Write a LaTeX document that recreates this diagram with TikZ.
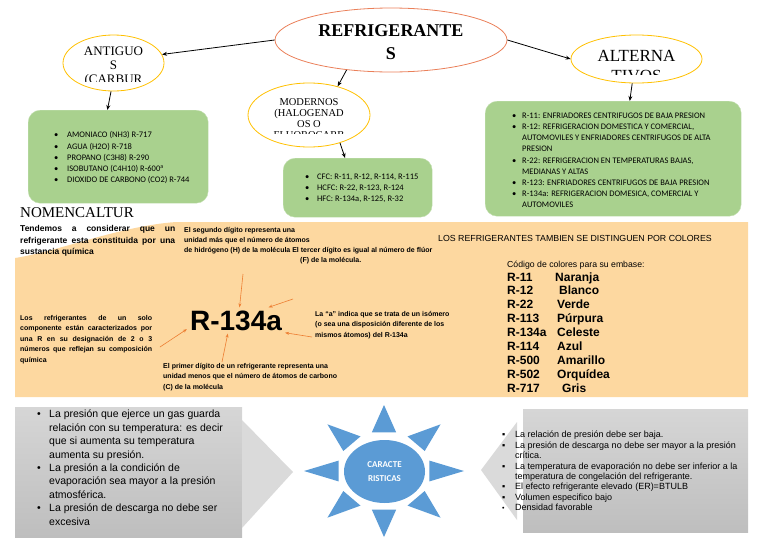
\documentclass[tikz,border=0pt]{standalone}
\usepackage{fontspec}
\setmainfont{Liberation Serif}
\setsansfont{Liberation Sans}
\newfontfamily\calib{Carlito}
\usetikzlibrary{shapes.geometric,arrows.meta}

\definecolor{titleline}{RGB}{234,128,90}
\definecolor{ovalgold}{RGB}{255,192,0}
\definecolor{boxgreen}{RGB}{169,209,142}
\definecolor{boxedge}{RGB}{197,224,180}
\definecolor{paleorange}{RGB}{253,216,160}
\definecolor{arroworange}{RGB}{237,125,49}
\definecolor{sunblue}{RGB}{91,155,213}
\definecolor{graytop}{RGB}{214,214,214}
\definecolor{graybot}{RGB}{190,190,190}
\definecolor{graytip}{RGB}{218,218,218}

\begin{document}
\begin{tikzpicture}[x=1pt,y=-1pt,
    >={Stealth[length=5pt,width=4pt]},
    oval/.style={ellipse,draw=ovalgold,line width=0.8pt,inner sep=0pt},
    ovaltext/.style={align=center,inner sep=0pt},
    greenbox/.style={draw=boxedge,fill=boxgreen,rounded corners=12pt,anchor=north west,inner sep=0pt},
    greentext/.style={font=\calib\fontsize{8.5}{11.2}\selectfont,align=left,anchor=north west,inner sep=0pt},
    tinytext/.style={font=\sffamily\bfseries\fontsize{7}{10.5}\selectfont,anchor=north west,inner sep=0pt},
    oarrow/.style={>={Stealth[length=4pt,width=3pt]},->,draw=arroworange,line width=0.6pt},
    colorrow/.style={font=\sffamily\bfseries\fontsize{12}{12}\selectfont,anchor=base west,inner sep=0pt},
    graylist/.style={font=\sffamily\fontsize{10.5}{13.4}\selectfont,align=left,anchor=north west,inner sep=0pt}
  ]

  \useasboundingbox (0,0) rectangle (768,552);

  % ========== Orange background ==========
  \fill[paleorange] (15,397) -- (15,258) .. controls (60,251) and (120,226) .. (176,222)
    -- (748,222) -- (748,397) -- cycle;

  % ========== Ovals ==========
  \node[oval, draw=titleline, minimum width=232, minimum height=64] (refri) at (391,40) {};
  \node[font=\bfseries\fontsize{18}{23}\selectfont, align=center, inner sep=0pt] (refritxt) at (391,42) {REFRIGERANTE\\S};

  \node[oval, minimum width=101, minimum height=56] (antiguos) at (113.5,63) {};
  \begin{scope}
    \clip (60,30) rectangle (170,81);
    \node[ovaltext, font=\fontsize{13}{14}\selectfont] (antiguostxt) at (113.5,67) {ANTIGUO\\S\\(CARBUR};
  \end{scope}

  \node[oval, minimum width=131, minimum height=48] (alternativos) at (636.5,59) {};
  \begin{scope}
    \clip (570,30) rectangle (705,74);
    \node[ovaltext, font=\fontsize{17}{20}\selectfont] (alternativostxt) at (636.5,66) {ALTERNA\\TIVOS};
  \end{scope}

  \node[oval, minimum width=122, minimum height=64] (modernos) at (309,115) {};
  \begin{scope}
    \clip (245,80) rectangle (375,133.5);
    \node[ovaltext, font=\fontsize{10.5}{11}\selectfont] (modernostxt) at (309,118.5) {MODERNOS\\(HALOGENAD\\OS O\\FLUOROCARB};
  \end{scope}

  % ========== Green boxes ==========
  \node[greenbox, minimum width=180, minimum height=93] (natbox) at (28,110) {};
  \node[greentext] (natlist) at (54,131.5) {%
    \makebox[13pt][l]{•}AMONIACO (NH3) R-717\\
    \makebox[13pt][l]{•}AGUA (H2O) R-718\\
    \makebox[13pt][l]{•}PROPANO (C3H8) R-290\\
    \makebox[13pt][l]{•}ISOBUTANO (C4H10) R-600\textsuperscript{a}\\
    \makebox[13pt][l]{•}DIOXIDO DE CARBONO (CO2) R-744};

  \node[greenbox, minimum width=149, minimum height=59] (cfcbox) at (283,158) {};
  \node[greentext] (cfclist) at (305,173.5) {%
    \makebox[12pt][l]{•}CFC: R-11, R-12, R-114, R-115\\
    \makebox[12pt][l]{•}HCFC: R-22, R-123, R-124\\
    \makebox[12pt][l]{•}HFC: R-134a, R-125, R-32};

  \node[greenbox, minimum width=256, minimum height=115] (altbox) at (485,101) {};
  \node[greentext] (altlist) at (512,112.5) {%
    \makebox[10pt][l]{•}R-11: ENFRIADORES CENTRIFUGOS DE BAJA PRESION\\
    \makebox[10pt][l]{•}R-12: REFRIGERACION DOMESTICA Y COMERCIAL,\\
    \hspace*{10pt}AUTOMOVILES Y ENFRIADORES CENTRIFUGOS DE ALTA\\
    \hspace*{10pt}PRESION\\
    \makebox[10pt][l]{•}R-22: REFRIGERACION EN TEMPERATURAS BAJAS,\\
    \hspace*{10pt}MEDIANAS Y ALTAS\\
    \makebox[10pt][l]{•}R-123: ENFRIADORES CENTRIFUGOS DE BAJA PRESION\\
    \makebox[10pt][l]{•}R-134a: REFRIGERACION DOMESICA, COMERCIAL Y\\
    \hspace*{10pt}AUTOMOVILES};

  % ========== Black arrows ==========
  \draw[->, line width=0.8pt] (refri.west) -- (antiguos.10);
  \draw[->, line width=0.8pt] (antiguos.-95) -- (natbox.103);
  \draw[->, line width=0.8pt] (refri.214) -- (modernos.45);
  \draw[->, line width=0.8pt] (modernos.-42) -- (cfcbox.113);
  \draw[->, line width=0.8pt] (refri.east) -- (alternativos.west);
  \draw[->, line width=0.8pt] (alternativos.-100) -- (altbox.74);

  % ========== Nomenclatura ==========
  \node[anchor=west, inner sep=0pt, font=\fontsize{15}{15}\selectfont] (nomen) at (20,213) {NOMENCALTUR};

  \node[tinytext, font=\sffamily\bfseries\fontsize{8.5}{11.5}\selectfont, text width=155, align=justify] (tendemos) at (20,225.5)
    {Tendemos a considerar que un\linebreak refrigerante esta constituida por una\linebreak sustancia química};

  \node[tinytext, align=left, font=\sffamily\bfseries\fontsize{7}{10}\selectfont] (segundo) at (184,227)
    {El segundo dígito representa una\\
     unidad más que el número de átomos\\
     de hidrógeno (H) de la molécula El tercer dígito es igual al número de flúor\\
     \hspace*{116pt}(F) de la molécula.};

  \node[font=\sffamily\bfseries\fontsize{28}{28}\selectfont, inner sep=3pt] (codigo) at (236,320.5) {R-134a};

  \node[tinytext, text width=132, align=justify] (losref) at (20,315)
    {Los refrigerantes de un solo\linebreak componente están caracterizados por\linebreak
     una R en su designación de 2 o 3\linebreak números que reflejan su composición\linebreak química};

  \node[tinytext, align=left] (primer) at (163,363)
    {El primer dígito de un refrigerante representa una\\
     unidad menos que el número de átomos de carbono\\
     (C) de la molécula};

  \node[tinytext, align=left] (isomero) at (315,311)
    {La “a” indica que se trata de un isómero\\
     (o sea una disposición diferente de los\\
     mismos átomos) del R-134a};

  % ========== Orange arrows ==========
  \coordinate (fromsecond) at (243,274);
  \coordinate (fromthird) at (293,299);
  \coordinate (fromleft) at (160,347);
  \coordinate (fromfirst) at (222,362);
  \coordinate (fromiso) at (312,337);
  \draw[oarrow] (fromsecond) -- (codigo.75);
  \draw[oarrow] (fromthird) -- (codigo.22);
  \draw[oarrow] (fromleft) -- (codigo.190);
  \draw[oarrow] (fromfirst) -- (codigo.238);
  \draw[oarrow] (fromiso) -- (codigo.-14);

  % ========== Colour code ==========
  \node[inner sep=0pt, font=\sffamily\fontsize{8.8}{10}\selectfont] (distinguen) at (575,238)
    {LOS REFRIGERANTES TAMBIEN SE DISTINGUEN POR COLORES};
  \node[anchor=west, inner sep=0pt, font=\sffamily\fontsize{8.7}{10}\selectfont] (embase) at (507,265)
    {Código de colores para su embase:};

  \node[colorrow] (r11) at (507,281) {R-11};
  \node[colorrow] (naranja) at (555,281) {Naranja};
  \node[colorrow] (r12) at (507,294.5) {R-12};
  \node[colorrow] (blanco) at (559,294.5) {Blanco};
  \node[colorrow] (r22) at (507,308.5) {R-22};
  \node[colorrow] (verde) at (557,308.5) {Verde};
  \node[colorrow] (r113) at (507,322.5) {R-113};
  \node[colorrow] (purpura) at (557,322.5) {Púrpura};
  \node[colorrow] (r134a) at (507,336.5) {R-134a};
  \node[colorrow] (celeste) at (557,336.5) {Celeste};
  \node[colorrow] (r114) at (507,350.5) {R-114};
  \node[colorrow] (azul) at (557,350.5) {Azul};
  \node[colorrow] (r500) at (507,364.5) {R-500};
  \node[colorrow] (amarillo) at (557,364.5) {Amarillo};
  \node[colorrow] (r502) at (507,378.5) {R-502};
  \node[colorrow] (orquidea) at (557,378.5) {Orquídea};
  \node[colorrow] (r717) at (507,392.5) {R-717};
  \node[colorrow] (gris) at (562,392.5) {Gris};

  % ========== Left gray arrow ==========
  \shade[top color=graytop, bottom color=graybot] (15,407) rectangle (242,537);
  \fill[graytip] (242,420) -- (293,472) -- (242,528) -- cycle;
  \node[graylist] (leftlist) at (37,410) {%
    \makebox[12pt][l]{•}La presión que ejerce un gas guarda\\
    \hspace*{12pt}relación con su temperatura: es decir\\
    \hspace*{12pt}que si aumenta su temperatura\\
    \hspace*{12pt}aumenta su presión.\\
    \makebox[12pt][l]{•}La presión a la condición de\\
    \hspace*{12pt}evaporación sea mayor a la presión\\
    \hspace*{12pt}atmosférica.\\
    \makebox[12pt][l]{•}La presión de descarga no debe ser\\
    \hspace*{12pt}excesiva};

  % ========== Sun ==========
  \fill[sunblue] (384,405) -- (396.2,432.4) -- (371.8,432.4) -- cycle;
  \fill[sunblue] (384,537) -- (396.2,509.6) -- (371.8,509.6) -- cycle;
  \fill[sunblue] (464,471) -- (429.4,460.6) -- (429.4,481.4) -- cycle;
  \fill[sunblue] (304,471) -- (338.6,460.6) -- (338.6,481.4) -- cycle;
  \fill[sunblue] (440.6,424.3) -- (424.7,451) -- (407.5,436.4) -- cycle;
  \fill[sunblue] (327.4,424.3) -- (343.3,451) -- (360.5,436.4) -- cycle;
  \fill[sunblue] (327.4,517.7) -- (343.3,491) -- (360.5,505.6) -- cycle;
  \fill[sunblue] (440.6,517.7) -- (424.7,491) -- (407.5,505.6) -- cycle;
  \node[ellipse, fill=sunblue, minimum width=81, minimum height=63, inner sep=0pt,
    font=\calib\bfseries\fontsize{9}{14}\selectfont, text=white, align=center] (sun) at (384.5,471.5) {CARACTE\\RISTICAS};

  % ========== Right gray arrow ==========
  \shade[top color=graytop, bottom color=graybot] (523,409) rectangle (748,532);
  \fill[graytip] (517,422) -- (481,470) -- (517,520) -- cycle;
  \node[graylist, font=\sffamily\fontsize{9}{10.4}\selectfont] (rightlist) at (502,431) {%
    \makebox[13pt][l]{▪}La relación de presión debe ser baja.\\
    \makebox[13pt][l]{▪}La presión de descarga no debe ser mayor a la presión\\
    \hspace*{13pt}crítica.\\
    \makebox[13pt][l]{▪}La temperatura de evaporación no debe ser inferior a la\\
    \hspace*{13pt}temperatura de congelación del refrigerante.\\
    \makebox[13pt][l]{▪}El efecto refrigerante elevado (ER)=BTULB\\
    \makebox[13pt][l]{▪}Volumen especifico bajo\\
    \makebox[13pt][l]{\scriptsize •}Densidad favorable};

\end{tikzpicture}
\end{document}
